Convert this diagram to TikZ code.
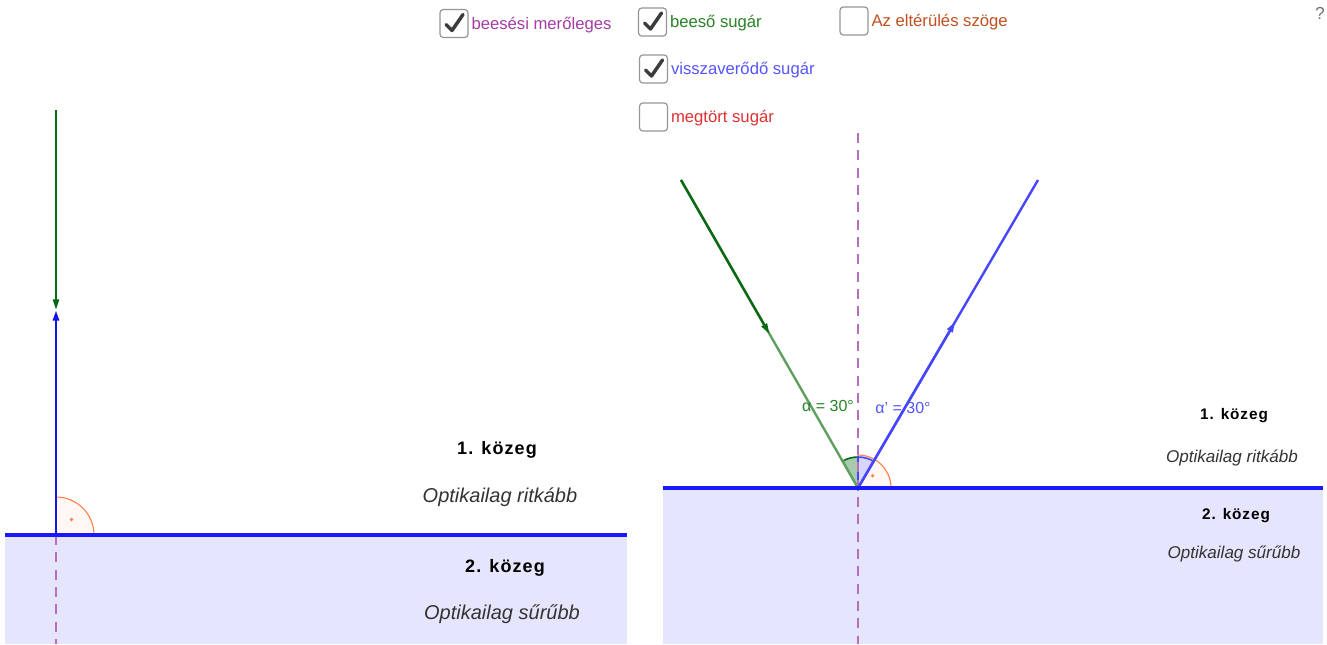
\documentclass[tikz,border=0pt]{standalone}
\usepackage{fontspec}
\setmainfont{Liberation Sans}
\usetikzlibrary{arrows.meta, positioning, calc}
\usepackage{xcolor}

\definecolor{normalcol}{RGB}{184,110,190}
\definecolor{normaltext}{RGB}{165,60,165}
\definecolor{inccol}{RGB}{10,105,20}
\definecolor{inclight}{RGB}{95,160,95}
\definecolor{inctext}{RGB}{40,130,40}
\definecolor{reflcol}{RGB}{70,70,255}
\definecolor{refltext}{RGB}{85,85,255}
\definecolor{surfcol}{RGB}{25,25,250}
\definecolor{mediumfill}{RGB}{229,229,253}
\definecolor{racol}{RGB}{255,125,70}
\definecolor{refrtext}{RGB}{220,50,50}
\definecolor{devtext}{RGB}{192,80,30}
\definecolor{boxgray}{RGB}{150,150,150}
\definecolor{tickgray}{RGB}{60,60,60}

\begin{document}
\begin{tikzpicture}[x=0.75pt, y=-0.75pt,
    cbox/.style={draw=boxgray, line width=0.9pt, rounded corners=2.5pt, minimum size=21pt, inner sep=0pt},
    cblabel/.style={inner sep=1pt, yshift=-1pt, font=\fontsize{12.5}{15}\selectfont},
    tick/.style={draw=tickgray, line width=2.6pt, line cap=round, line join=round},
    surface/.style={draw=surfcol, line width=2.4pt},
    normalline/.style={draw=normalcol, line width=1.4pt, dash pattern=on 7.5pt off 5.5pt},
    ray/.style={line width=1.8pt},
    raytip/.style={-{Triangle[length=8pt, width=4.5pt]}},
    rightang/.style={draw=racol, line width=0.8pt, fill=racol!6},
    medbigtitle/.style={font=\fontsize{13.5}{16}\selectfont\bfseries\addfontfeatures{LetterSpace=6}},
    medbigsub/.style={font=\fontsize{15}{18}\selectfont\itshape},
    medtitle/.style={font=\fontsize{11.5}{14}\selectfont\bfseries\addfontfeatures{LetterSpace=6}},
    medsub/.style={font=\fontsize{12.8}{15}\selectfont\itshape}]

    % Canvas
    \fill[white] (0,0) rectangle (1327,644);
    \useasboundingbox (0,0) rectangle (1327,644);
    \fill[mediumfill] (5,535) rectangle (627,644);
    \fill[mediumfill] (663,488) rectangle (1323,644);

    % Points
    \coordinate (Ltop) at (56,110);
    \coordinate (Lmid) at (56,310);
    \coordinate (Lhit) at (56,535);
    \coordinate (Lbot) at (56,644);
    \coordinate (Lleft) at (5,535);
    \coordinate (Lright) at (627,535);
    \coordinate (src) at (681,180);
    \coordinate (hit) at (858,488);
    \coordinate (dst) at (1038,180);
    \coordinate (ntop) at (858,133);
    \coordinate (nbot) at (858,644);
    \coordinate (Rleft) at (663,488);
    \coordinate (Rright) at (1323,488);
    \coordinate (srcmid) at ($(src)!0.5!(hit)$);
    \coordinate (dstmid) at ($(hit)!0.54!(dst)$);

    % Angle marks
    \path[rightang] (Lhit) -- ++(38,0) arc[start angle=0, end angle=-90, radius=38] -- cycle;
    \fill[racol] (Lhit) ++(-45:22) circle[radius=1.4pt];
    \path[rightang] (hit) -- ++(33,0) arc[start angle=0, end angle=-90, radius=33] -- cycle;
    \fill[racol] (hit) ++(-40:19) circle[radius=1.3pt];
    \filldraw[draw=inccol, fill=inccol!35, line width=1.2pt] (hit) -- ++(-90:31) arc[start angle=-90, end angle=-120, radius=31] -- cycle;
    \filldraw[draw=reflcol, fill=reflcol!22, line width=1.2pt] (hit) -- ++(-90:31) arc[start angle=-90, end angle=-60, radius=31] -- cycle;

    % Normals
    \draw[normalline] (Lhit) -- (Lbot);
    \draw[normalline] (ntop) -- (nbot);

    % Rays
    \draw[ray, draw=inccol, fill=inccol, raytip] (Ltop) -- (Lmid);
    \draw[ray, line width=2.1pt, draw=surfcol!90!black, raytip] (Lhit) -- (Lmid);
    \draw[ray, draw=inclight] (src) -- (hit);
    \draw[ray, draw=inccol, raytip] (src) -- (srcmid);
    \draw[ray, draw=reflcol] (hit) -- (dst);
    \draw[ray, draw=reflcol, raytip] (hit) -- (dstmid);

    % Surfaces
    \draw[surface] (Lleft) -- (Lright);
    \draw[surface] (Rleft) -- (Rright);

    % Labels
    \node (m1L) [medbigtitle] at (497,450) {1. közeg};
    \node (s1L) [medbigsub, text=black!80] at (500,497) {Optikailag ritkább};
    \node (m2L) [medbigtitle] at (505,568) {2. közeg};
    \node (s2L) [medbigsub, text=black!80] at (502,614) {Optikailag sűrűbb};
    \node (m1R) [medtitle] at (1234,416) {1. közeg};
    \node (s1R) [medsub, text=black!80] at (1232,458) {Optikailag ritkább};
    \node (m2R) [medtitle] at (1236,516) {2. közeg};
    \node (s2R) [medsub, text=black!80] at (1234,554) {Optikailag sűrűbb};
    \node (alpha) [text=inctext, font=\fontsize{12}{14}\selectfont] at (828,406) {α = 30°};
    \node (alphap) [text=refltext, font=\fontsize{12}{14}\selectfont] at (903,408) {α' = 30°};
    \node (help) [text=black!55, font=\fontsize{13}{15}\selectfont, inner sep=0pt] at (1320,13) {?};

    % Checkboxes
    \node (cbnormal) [cbox] at (454,23.5) {};
    \node (lbnormal) [cblabel, text=normaltext, right=1pt of cbnormal] {beesési merőleges};
    \node (cbinc) [cbox] at (652.5,22) {};
    \node (lbinc) [cblabel, text=inctext, right=1pt of cbinc] {beeső sugár};
    \node (cbrefl) [cbox] at (653.5,69) {};
    \node (lbrefl) [cblabel, text=refltext, right=1pt of cbrefl] {visszaverődő sugár};
    \node (cbrefr) [cbox] at (653.5,117) {};
    \node (lbrefr) [cblabel, text=refrtext, right=1pt of cbrefr] {megtört sugár};
    \node (cbdev) [cbox] at (854,21) {};
    \node (lbdev) [cblabel, text=devtext, right=1pt of cbdev] {Az eltérülés szöge};
    \draw[tick] ([shift={(-8,1)}]cbnormal.center) -- ([shift={(-2,7)}]cbnormal.center) -- ([shift={(9,-9)}]cbnormal.center);
    \draw[tick] ([shift={(-8,1)}]cbinc.center) -- ([shift={(-2,7)}]cbinc.center) -- ([shift={(9,-9)}]cbinc.center);
    \draw[tick] ([shift={(-8,1)}]cbrefl.center) -- ([shift={(-2,7)}]cbrefl.center) -- ([shift={(9,-9)}]cbrefl.center);
\end{tikzpicture}
\end{document}
